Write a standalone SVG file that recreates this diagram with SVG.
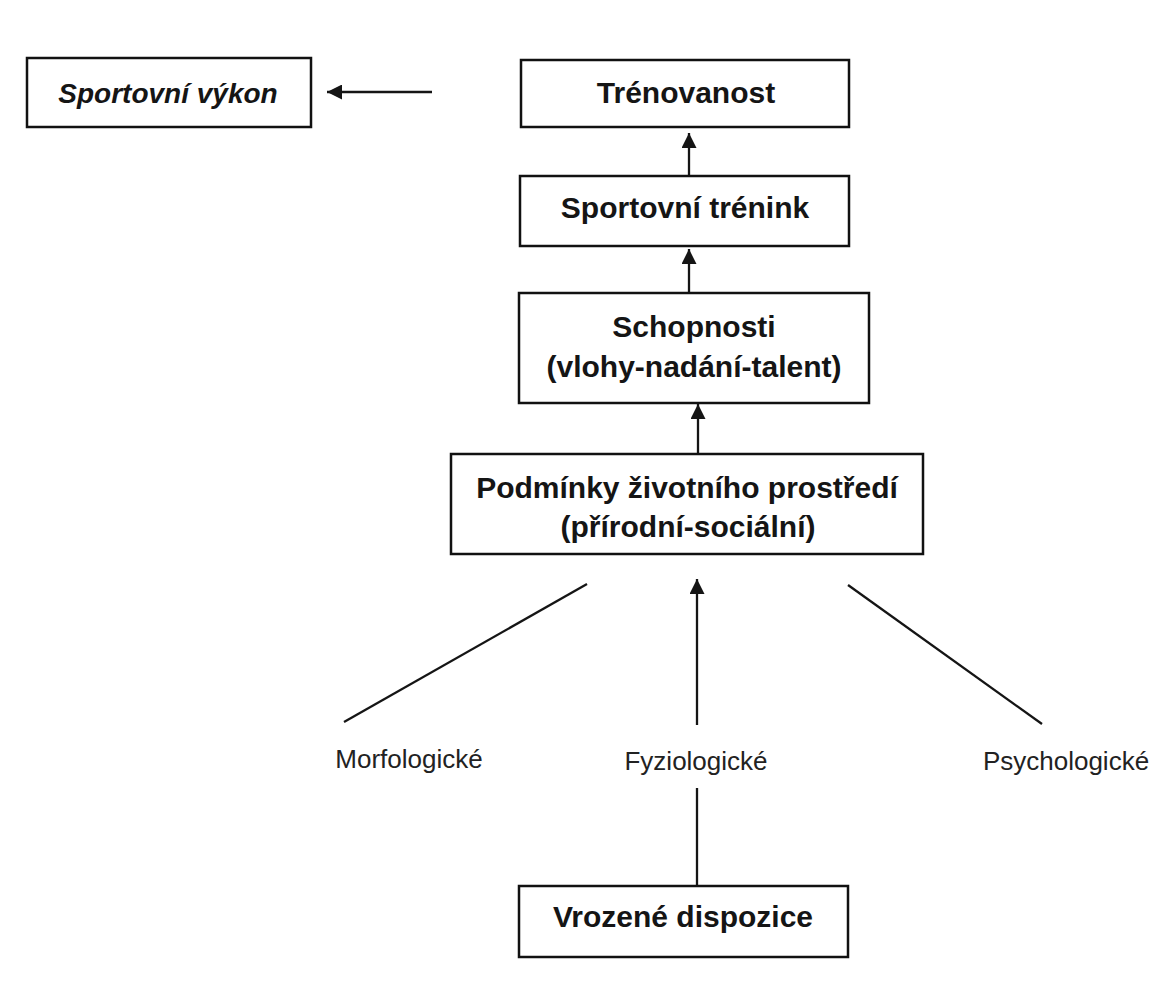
<svg xmlns="http://www.w3.org/2000/svg" width="1164" height="1001" viewBox="0 0 1164 1001">
  <style>
    .box { fill: #ffffff; stroke: #111111; stroke-width: 2.5; }
    .lbl { font-family: "Liberation Sans", Arial, sans-serif; font-weight: bold; font-size: 30px; fill: #151515; text-anchor: middle; }
    .it { font-style: italic; font-size: 28px; }
    .plain { font-family: "Liberation Sans", Arial, sans-serif; font-size: 26px; fill: #222222; text-anchor: middle; }
    .conn { stroke: #151515; stroke-width: 2.3; fill: none; }
  </style>
  <defs>
    <marker id="arrow" viewBox="0 0 10 10" refX="10" refY="5" markerUnits="userSpaceOnUse" markerWidth="15" markerHeight="15" orient="auto">
      <path d="M0,0 L10,5 L0,10 z" fill="#151515"/>
    </marker>
  </defs>
  <rect width="1164" height="1001" fill="#ffffff"/>

  <g id="connectors">
    <line class="conn" x1="432" y1="92" x2="327" y2="92" marker-end="url(#arrow)"/>
    <line class="conn" x1="689" y1="176" x2="689" y2="133" marker-end="url(#arrow)"/>
    <line class="conn" x1="689" y1="293" x2="689" y2="249" marker-end="url(#arrow)"/>
    <line class="conn" x1="698" y1="454" x2="698" y2="404" marker-end="url(#arrow)"/>
    <line class="conn" x1="697" y1="725" x2="697" y2="579" marker-end="url(#arrow)"/>
    <line class="conn" x1="344" y1="722" x2="587" y2="584"/>
    <line class="conn" x1="848" y1="585" x2="1042" y2="724"/>
    <line class="conn" x1="697" y1="886" x2="697" y2="788"/>
  </g>

  <g id="sportovni-vykon">
    <rect class="box" x="27" y="58" width="284" height="69"/>
    <text class="lbl it" x="168" y="103">Sportovní výkon</text>
  </g>
  <g id="trenovanost">
    <rect class="box" x="521" y="60" width="328" height="67"/>
    <text class="lbl" x="686" y="103">Trénovanost</text>
  </g>
  <g id="sportovni-trenink">
    <rect class="box" x="520" y="176" width="329" height="70"/>
    <text class="lbl" x="685" y="218">Sportovní trénink</text>
  </g>
  <g id="schopnosti">
    <rect class="box" x="519" y="293" width="350" height="110"/>
    <text class="lbl" x="694" y="337">Schopnosti</text>
    <text class="lbl" x="694" y="377">(vlohy-nadání-talent)</text>
  </g>
  <g id="podminky">
    <rect class="box" x="451" y="454" width="472" height="100"/>
    <text class="lbl" x="687" y="498">Podmínky životního prostředí</text>
    <text class="lbl" x="688" y="537">(přírodní-sociální)</text>
  </g>
  <g id="morfologicke">
    <text class="plain" x="409" y="768">Morfologické</text>
  </g>
  <g id="fyziologicke">
    <text class="plain" x="696" y="770">Fyziologické</text>
  </g>
  <g id="psychologicke">
    <text class="plain" x="1066" y="770">Psychologické</text>
  </g>
  <g id="vrozene-dispozice">
    <rect class="box" x="519" y="886" width="329" height="71"/>
    <text class="lbl" x="683" y="927">Vrozené dispozice</text>
  </g>
</svg>
